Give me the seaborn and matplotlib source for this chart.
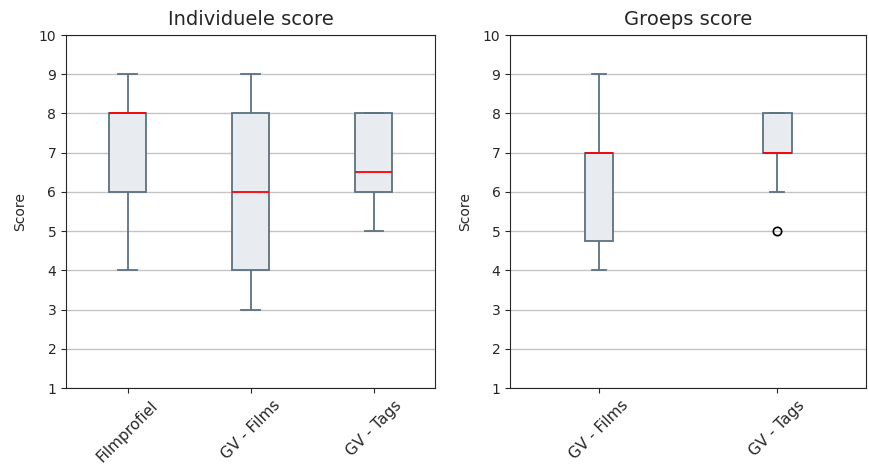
import numpy as np
import pandas as pd
import matplotlib
matplotlib.use('Agg')
import matplotlib.pyplot as plt
import seaborn as sns

# Individual scores per method
filmprofiel = [4, 6, 6, 8, 8, 8, 9]
gv_films = [3, 4, 4, 6, 8, 8, 9]
gv_tags = [5, 6, 6, 6, 7, 8, 8, 8]

# Group scores per method
groep_gv_films = [4, 4, 7, 7, 7, 9]
groep_gv_tags = [5, 6, 7, 7, 7, 8, 8, 8, 8]

ind_labels = ['Filmprofiel', 'GV - Films', 'GV - Tags']
groep_labels = ['GV - Films', 'GV - Tags']
y_ticks = list(range(1, 11))

ind_df = pd.DataFrame({
    'methode': ['Filmprofiel'] * len(filmprofiel) + ['GV - Films'] * len(gv_films) + ['GV - Tags'] * len(gv_tags),
    'score': filmprofiel + gv_films + gv_tags,
})
groep_df = pd.DataFrame({
    'methode': ['GV - Films'] * len(groep_gv_films) + ['GV - Tags'] * len(groep_gv_tags),
    'score': groep_gv_films + groep_gv_tags,
})

fill = '#e8ecf0'
edge = '#5b7282'
box_kws = dict(
    color=fill, linecolor=edge, saturation=1, linewidth=1.3,
    medianprops={'color': 'red', 'linewidth': 1.3},
    flierprops={'marker': 'o', 'markerfacecolor': 'none', 'markeredgecolor': 'black',
                'markersize': 6, 'markeredgewidth': 1.2},
)

fig = plt.figure(figsize=(8.69, 4.67), dpi=100)
ax1 = fig.add_axes([0.076, 0.169, 0.425, 0.756])
ax2 = fig.add_axes([0.587, 0.169, 0.410, 0.756])

sns.boxplot(data=ind_df, x='methode', y='score', order=ind_labels, width=0.3, ax=ax1, **box_kws)
sns.boxplot(data=groep_df, x='methode', y='score', order=groep_labels, width=0.16, ax=ax2, **box_kws)

for ax, title in [(ax1, 'Individuele score'), (ax2, 'Groeps score')]:
    ax.set_ylim(1, 10)
    ax.set_yticks(y_ticks)
    ax.set_title(title, fontsize=14, color='#262626', pad=7)
    ax.set_ylabel('Score', fontsize=10, color='#262626', labelpad=8)
    ax.set_xlabel('')
    ax.yaxis.grid(True, color='#c4c4c4', linewidth=1)
    ax.xaxis.grid(False)
    ax.set_axisbelow(True)
    ax.tick_params(axis='x', labelrotation=45, labelsize=11, colors='#262626')
    ax.tick_params(axis='y', labelsize=10, colors='#262626')
    for lbl in ax.get_xticklabels():
        lbl.set_ha('center')
    for s in ax.spines.values():
        s.set_color('#262626')
        s.set_visible(True)

fig.savefig('out.png', dpi=100)
